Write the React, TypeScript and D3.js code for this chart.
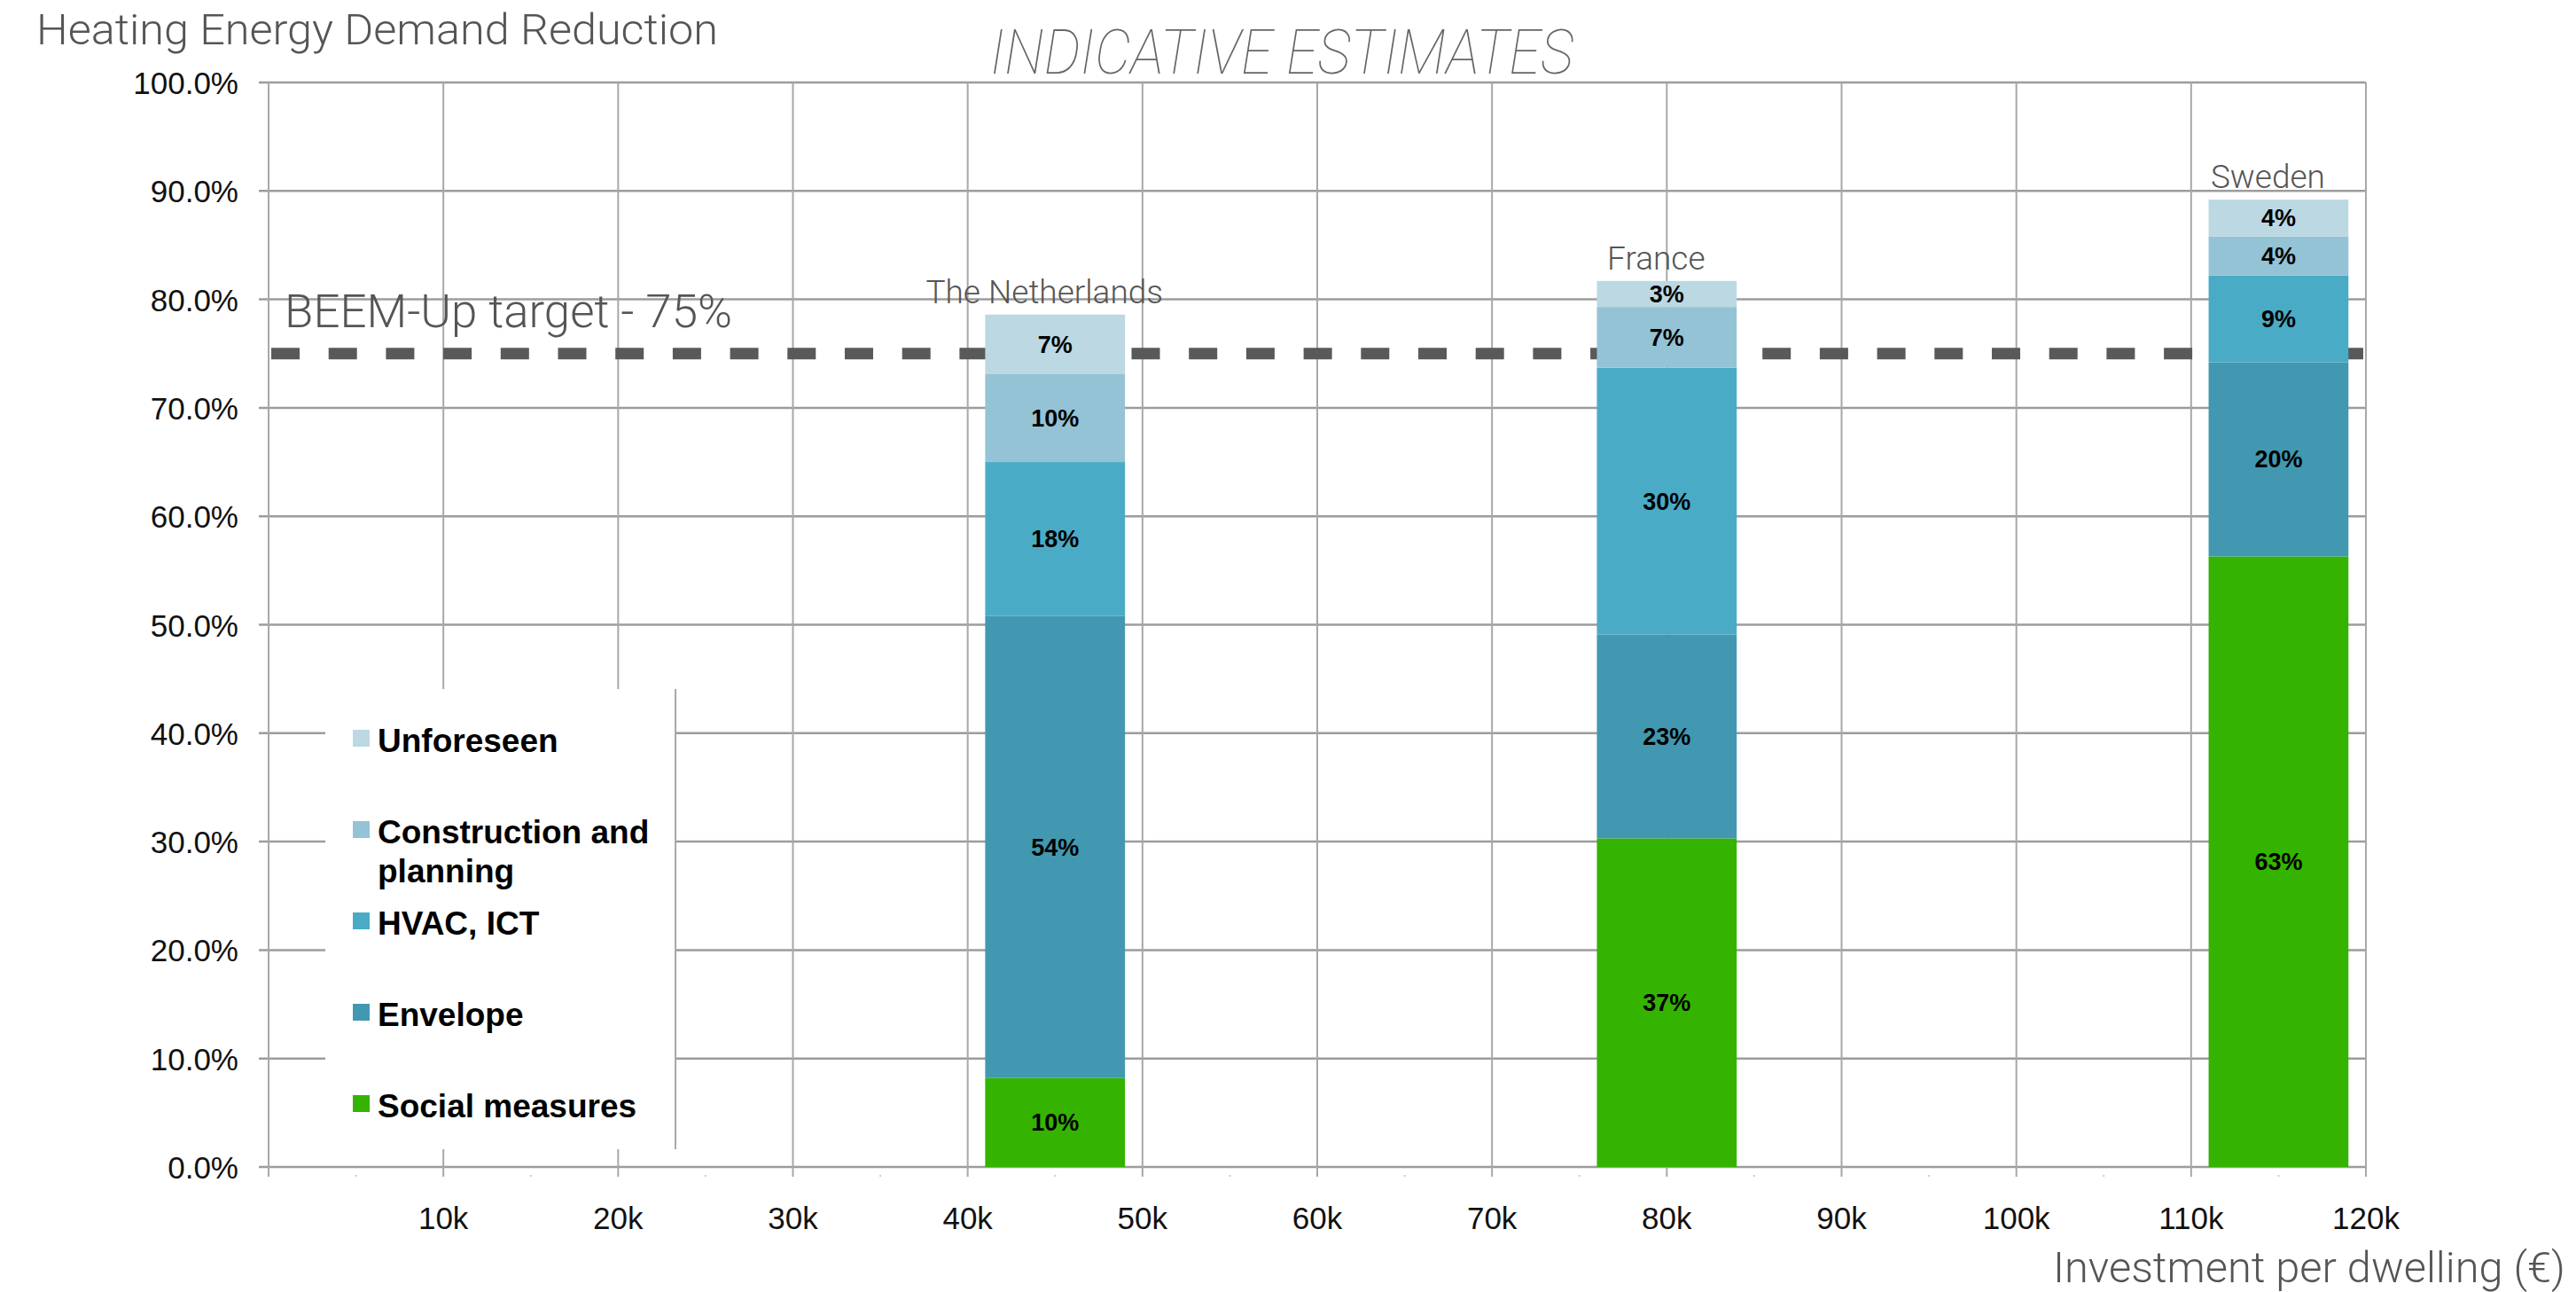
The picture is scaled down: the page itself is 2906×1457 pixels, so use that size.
import React from 'react';
import * as d3 from 'd3';

const countries = ['The Netherlands', 'France', 'Sweden'];
const investmentPerDwelling = [45000, 80000, 115000];
const socialMeasures = [8.2, 30.3, 56.3];
const envelope = [42.6, 18.8, 17.9];
const hvacIct = [14.2, 24.6, 8.0];
const constructionPlanning = [8.1, 5.6, 3.6];
const unforeseen = [5.5, 2.4, 3.4];

const seriesKeys = ['social', 'envelope', 'hvac', 'construction', 'unforeseen'];
const seriesNames = ['Social measures', 'Envelope', 'HVAC, ICT', 'Construction and planning', 'Unforeseen'];
const seriesColors = ['#34b300', '#4298b0', '#4aabc6', '#94c3d5', '#bcd8e3'];

const yTicks = [0, 10, 20, 30, 40, 50, 60, 70, 80, 90, 100];
const xTicks = [0, 10000, 20000, 30000, 40000, 50000, 60000, 70000, 80000, 90000, 100000, 110000, 120000];
const xTickLabels = ['', '10k', '20k', '30k', '40k', '50k', '60k', '70k', '80k', '90k', '100k', '110k', '120k'];
const targetValue = 75;
const barWidthEuro = 8000;

const W = 2906;
const H = 1457;

export default function App() {
  const x = d3.scaleLinear().domain([0, 120000]).range([303, 2669]);
  const y = d3.scaleLinear().domain([0, 100]).range([1316, 93]);

  const rows = countries.map((c, i) => ({
    country: c,
    inv: investmentPerDwelling[i],
    social: socialMeasures[i],
    envelope: envelope[i],
    hvac: hvacIct[i],
    construction: constructionPlanning[i],
    unforeseen: unforeseen[i],
  }));
  const stacked = d3.stack<any>().keys(seriesKeys)(rows);
  const totals = rows.map((r) => seriesKeys.reduce((s, k) => s + (r as any)[k], 0));

  const bw = x(barWidthEuro) - x(0);
  const fmtY = d3.format('.1f');
  const minorTicks = d3.range(5000, 125000, 10000);

  const legendOrder = [4, 3, 2, 1, 0];
  const legendX = 367, legendY = 777, legendW = 395, legendH = 519;

  const lightFont = 'Roboto, "Liberation Sans", Arial, sans-serif';
  const tickFont = '"Liberation Sans", Arial, sans-serif';

  return (
    <svg width={W} height={H} style={{ position: 'absolute', left: 0, top: 0, display: 'block', background: '#fff' }}>
      {/* horizontal gridlines */}
      {yTicks.map((t) => (
        <line key={'h' + t} x1={292} x2={x(120000)} y1={y(t)} y2={y(t)} stroke="#9c9c9c" strokeWidth={2.5} />
      ))}
      {/* vertical gridlines */}
      {xTicks.map((t) => (
        <line key={'v' + t} x1={x(t)} x2={x(t)} y1={y(100)} y2={y(0) + 11} stroke="#a8a8a8" strokeWidth={2} />
      ))}
      {minorTicks.map((t) => (
        <line key={'m' + t} x1={x(t)} x2={x(t)} y1={y(0) + 9} y2={y(0) + 11} stroke="#cccccc" strokeWidth={2} />
      ))}
      {/* y tick labels */}
      {yTicks.map((t) => (
        <text key={'yl' + t} x={269} y={y(t) + 13} textAnchor="end" fontFamily={tickFont} fontSize={35} fill="#111">
          {fmtY(t) + '%'}
        </text>
      ))}
      {/* x tick labels */}
      {xTicks.map((t, i) => (
        <text key={'xl' + t} x={x(t)} y={1386} textAnchor="middle" fontFamily={tickFont} fontSize={35} fill="#111">
          {xTickLabels[i]}
        </text>
      ))}
      {/* target dashed line */}
      <line x1={306} x2={2666} y1={y(targetValue)} y2={y(targetValue)} stroke="#58595b" strokeWidth={13} strokeDasharray="32 32.7" />
      <text x={321} y={y(targetValue) - 30} fontFamily={lightFont} fontWeight={300} fontSize={51} fill="#555" textLength={505} lengthAdjust="spacingAndGlyphs">
        BEEM-Up target - 75%
      </text>
      {/* bars */}
      {stacked.map((s, si) => (
        <g key={s.key}>
          {s.map((d, i) => (
            <rect key={i} x={x(rows[i].inv) - bw / 2} width={bw} y={y(d[1])} height={y(d[0]) - y(d[1])} fill={seriesColors[si]} />
          ))}
        </g>
      ))}
      {/* segment labels */}
      {stacked.map((s, si) => (
        <g key={'l' + s.key}>
          {s.map((d, i) => (
            <text key={i} x={x(rows[i].inv)} y={(y(d[0]) + y(d[1])) / 2 + 9.5} textAnchor="middle" fontFamily={tickFont} fontWeight="bold" fontSize={27} fill="#000">
              {Math.round(((d[1] - d[0]) / totals[i]) * 100) + '%'}
            </text>
          ))}
        </g>
      ))}
      {/* country labels */}
      {rows.map((r, i) => (
        <text key={'c' + i} x={x(r.inv) - 12} y={y(totals[i]) - 13} textAnchor="middle" fontFamily={lightFont} fontWeight={300} fontSize={37} fill="#555">
          {r.country}
        </text>
      ))}
      {/* legend */}
      <rect x={legendX} y={legendY} width={legendW} height={legendH} fill="#fff" />
      <line x1={legendX + legendW} x2={legendX + legendW} y1={legendY} y2={legendY + legendH} stroke="#a8a8a8" strokeWidth={2} />
      {legendOrder.map((si, k) => {
        const base = 848 + k * 103;
        const name = seriesNames[si];
        const lines = name === 'Construction and planning' ? ['Construction and', 'planning'] : [name];
        return (
          <g key={'lg' + si}>
            <rect x={398} y={base - 25} width={19} height={19} fill={seriesColors[si]} />
            <text x={426} y={base} fontFamily={tickFont} fontWeight="bold" fontSize={37} fill="#000">
              {lines.map((ln, j) => (
                <tspan key={j} x={426} dy={j === 0 ? 0 : 44}>{ln}</tspan>
              ))}
            </text>
          </g>
        );
      })}
      {/* titles */}
      <text x={41} y={50} fontFamily={lightFont} fontWeight={300} fontSize={49} fill="#555" textLength={769} lengthAdjust="spacingAndGlyphs">
        Heating Energy Demand Reduction
      </text>
      <text x={1117} y={83} fontFamily={lightFont} fontWeight={100} fontStyle="italic" fontSize={70} fill="#666" textLength={658} lengthAdjust="spacingAndGlyphs">
        INDICATIVE ESTIMATES
      </text>
      <text x={2894} y={1446} textAnchor="end" fontFamily={lightFont} fontWeight={300} fontSize={48} fill="#555" textLength={578} lengthAdjust="spacingAndGlyphs">
        Investment per dwelling (€)
      </text>
    </svg>
  );
}
